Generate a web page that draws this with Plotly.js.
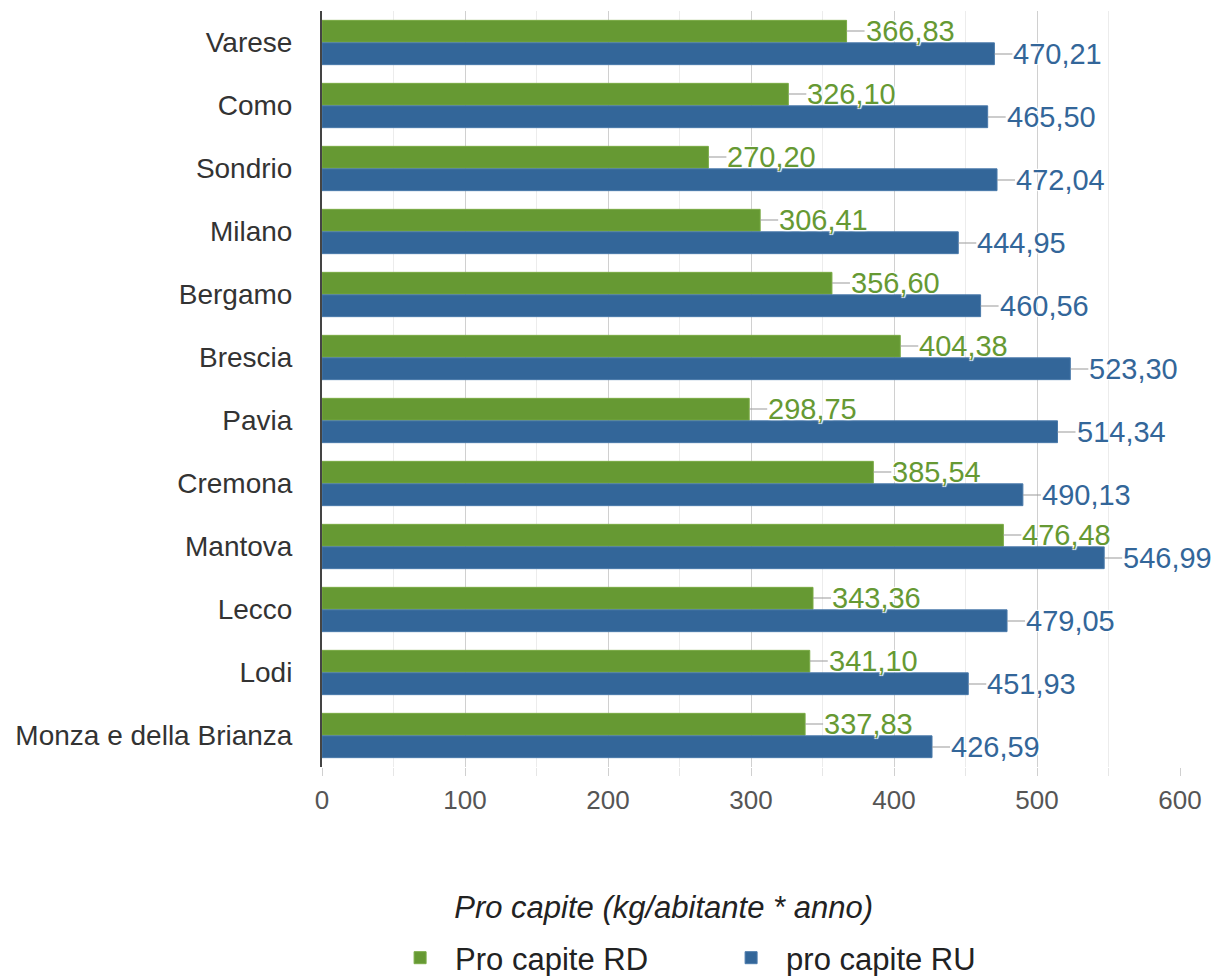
<!DOCTYPE html>
<html>
<head>
<meta charset="utf-8">
<script src="https://cdn.plot.ly/plotly-3.0.1.min.js"></script>
<style>html,body{margin:0;padding:0;background:#fff;}</style>
</head>
<body>
<div id="chart" style="width:1211px;height:976px;"></div>
<script>
const provinces = ["Varese","Como","Sondrio","Milano","Bergamo","Brescia","Pavia","Cremona","Mantova","Lecco","Lodi","Monza e della Brianza"];
const proCapiteRD = [366.83,326.10,270.20,306.41,356.60,404.38,298.75,385.54,476.48,343.36,341.10,337.83];
const proCapiteRU = [470.21,465.50,472.04,444.95,460.56,523.30,514.34,490.13,546.99,479.05,451.93,426.59];
const xTickVals = [0,100,200,300,400,500,600];

const GREEN = '#669933';
const BLUE = '#336699';
const FONT = 'Liberation Sans, Arial, sans-serif';

function fmt(v){ return v.toFixed(2).replace('.', ','); }

const traces = [
  {type:'bar', orientation:'h', name:'Pro capite RD', y:provinces, x:proCapiteRD,
   marker:{color:GREEN, line:{color:'#7aab45', width:1}}, hoverinfo:'x+y'},
  {type:'bar', orientation:'h', name:'pro capite RU', y:provinces, x:proCapiteRU,
   marker:{color:BLUE, line:{color:'#4a7aab', width:1}}, hoverinfo:'x+y'}
];

const annotations = [];
function addLabels(vals, color, shift){
  vals.forEach((v,i)=>{
    annotations.push({
      x:v, y:provinces[i], xref:'x', yref:'y',
      text:fmt(v), showarrow:true, arrowhead:0, arrowwidth:1.2, arrowcolor:'#999',
      ax:18, ay:0, xanchor:'left', yanchor:'middle', yshift:shift,
      font:{family:FONT, size:29, color:color, shadow:'1px 1px 1px #fff, -1px -1px 1px #fff, 1px -1px 1px #fff, -1px 1px 1px #fff'},
      borderpad:0
    });
  });
}
addLabels(proCapiteRD, GREEN, 11.5);
addLabels(proCapiteRU, BLUE, -11.5);

const layout = {
  width:1211, height:976,
  margin:{l:322, r:31, t:11, b:209},
  paper_bgcolor:'#fff', plot_bgcolor:'#fff',
  barmode:'group', bargap:0.286, bargroupgap:0.03,
  showlegend:true,
  legend:{orientation:'h', xref:'container', yref:'container', x:0.318, xanchor:'left', y:0.0184, yanchor:'middle',
          font:{family:FONT, size:31, color:'#222'}, itemwidth:60, entrywidth:256, entrywidthmode:'pixels', traceorder:'normal'},
  title:{text:'Pro capite (kg/abitante * anno)', x:0.548, xanchor:'center', y:0.0707, yanchor:'middle',
         xref:'container', yref:'container', font:{family:FONT, size:31, color:'#222', style:'italic'}},
  xaxis:{range:[0,600], tickvals:xTickVals, ticktext:xTickVals.map(String),
         showgrid:true, gridcolor:'#d0d0d0', gridwidth:1, zeroline:false,
         ticks:'outside', ticklen:8, tickcolor:'#d0d0d0', ticklabelstandoff:2,
         minor:{dtick:50, showgrid:true, gridcolor:'#ececec', ticks:'outside', ticklen:8, tickcolor:'#e6e6e6'},
         tickfont:{family:FONT, size:26, color:'#555'}, showline:false, fixedrange:true},
  yaxis:{type:'category', autorange:'reversed', showgrid:false, zeroline:false,
         showline:true, linecolor:'#444', linewidth:2, ticks:'', ticklen:0, ticklabelstandoff:22,
         tickfont:{family:FONT, size:28, color:'#333'}, fixedrange:true},
  annotations:annotations,
  separators:',.'
};

Plotly.newPlot('chart', traces, layout, {displayModeBar:false, staticPlot:true});
</script>
</body>
</html>
